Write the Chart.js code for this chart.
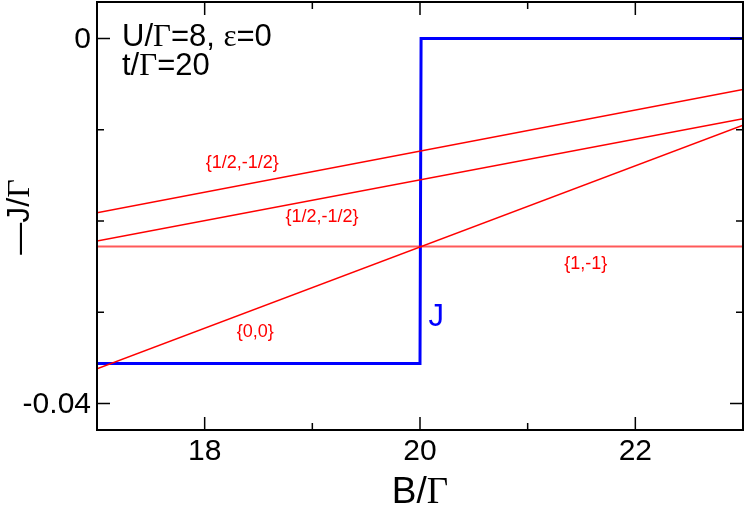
<!DOCTYPE html>
<html>
<head>
<meta charset="utf-8">
<script src="https://cdn.jsdelivr.net/npm/chart.js@4/dist/chart.umd.min.js"></script>
<style>
  html, body { margin: 0; padding: 0; background: #fff; }
  #wrap { width: 747px; height: 507px; }
</style>
</head>
<body>
<div id="wrap"><canvas id="c" width="747" height="507"></canvas></div>
<script>
// axis ranges and ticks
const xMin = 17, xMax = 23;
const yMin = -0.0429, yMax = 0.004;
const xTickValues = [17, 18, 19, 20, 21, 22, 23];
const xTickLabels = ['', '18', '', '20', '', '22', ''];
const yTickValues = [0, -0.01, -0.02, -0.03, -0.04];
const yTickLabels = ['0', '', '', '', '-0.04'];

// J step curve
const jB = [17, 20, 20.01, 23];
const jVal = [-0.0356, -0.0356, 0, 0];

// red level lines (end points at B=17 and B=23)
const lineB = [17, 23];
const level00 = [-0.0362, -0.0095];
const levelHalfA = [-0.0191, -0.0056];
const levelHalfB = [-0.0222, -0.0088];
const level1m1 = [-0.0228, -0.0228];

// text labels placed in data coordinates
const labelText = ['{1/2,-1/2}', '{1/2,-1/2}', '{1,-1}', '{0,0}'];
const labelB = [18.35, 19.09, 21.54, 18.47];
const labelY = [-0.01364, -0.01956, -0.02471, -0.03216];

const SANS = 'Liberation Sans, Arial, Helvetica, sans-serif';
const SERIF = 'Liberation Serif, DejaVu Serif, serif';

function pts(xs, ys) {
  return xs.map((x, i) => ({ x: x, y: ys[i] }));
}

// draws a string made of pieces in different fonts
function drawRuns(ctx, runs, x, y, size) {
  let cx = x;
  runs.forEach(r => {
    ctx.font = size + 'px ' + (r[1] ? SERIF : SANS);
    ctx.fillText(r[0], cx, y);
    cx += ctx.measureText(r[0]).width;
  });
  return cx - x;
}
function runsWidth(ctx, runs, size) {
  let w = 0;
  runs.forEach(r => {
    ctx.font = size + 'px ' + (r[1] ? SERIF : SANS);
    w += ctx.measureText(r[0]).width;
  });
  return w;
}

const framePlugin = {
  id: 'frame',
  afterDatasetsDraw(chart) {
    const ctx = chart.ctx;
    const a = chart.chartArea;
    const xs = chart.scales.x, ys = chart.scales.y;
    ctx.save();

    // tick marks pointing inward, on all four sides
    ctx.strokeStyle = '#000';
    ctx.lineWidth = 1.5;
    xTickValues.forEach((v, i) => {
      const px = xs.getPixelForValue(v);
      const len = xTickLabels[i] ? 13 : 7;
      ctx.beginPath();
      ctx.moveTo(px, a.bottom); ctx.lineTo(px, a.bottom - len);
      ctx.moveTo(px, a.top); ctx.lineTo(px, a.top + len);
      ctx.stroke();
    });
    yTickValues.forEach((v, i) => {
      const py = ys.getPixelForValue(v);
      const len = yTickLabels[i] ? 13 : 7;
      ctx.beginPath();
      ctx.moveTo(a.left, py); ctx.lineTo(a.left + len, py);
      ctx.moveTo(a.right, py); ctx.lineTo(a.right - len, py);
      ctx.stroke();
    });

    // frame
    ctx.lineWidth = 2;
    ctx.strokeRect(a.left, a.top, a.right - a.left, a.bottom - a.top);

    // tick labels
    ctx.fillStyle = '#000';
    ctx.font = '30px ' + SANS;
    ctx.textAlign = 'center';
    ctx.textBaseline = 'top';
    xTickValues.forEach((v, i) => {
      if (xTickLabels[i]) ctx.fillText(xTickLabels[i], xs.getPixelForValue(v), a.bottom + 7);
    });
    ctx.textAlign = 'right';
    ctx.textBaseline = 'middle';
    yTickValues.forEach((v, i) => {
      if (yTickLabels[i]) ctx.fillText(yTickLabels[i], a.left - 6, ys.getPixelForValue(v) + 1);
    });

    // red state labels
    ctx.fillStyle = '#ff0000';
    ctx.font = '18px ' + SANS;
    ctx.textAlign = 'center';
    ctx.textBaseline = 'middle';
    labelText.forEach((t, i) => {
      ctx.fillText(t, xs.getPixelForValue(labelB[i]), ys.getPixelForValue(labelY[i]));
    });

    // J label
    ctx.fillStyle = '#0000ff';
    ctx.font = '31px ' + SANS;
    ctx.fillText('J', xs.getPixelForValue(20.15), ys.getPixelForValue(-0.0306));

    // parameter text
    ctx.fillStyle = '#000';
    ctx.textAlign = 'left';
    ctx.textBaseline = 'alphabetic';
    const tx = a.left + 25;
    drawRuns(ctx, [['U/', 0], ['\u0393', 1], ['=8, ', 0], ['\u03b5', 1], ['=0', 0]], tx, 46, 31);
    drawRuns(ctx, [['t/', 0], ['\u0393', 1], ['=20', 0]], tx, 75, 31);

    // x title
    const xr = [['B/', 0], ['\u0393', 1]];
    const xw = runsWidth(ctx, xr, 37);
    drawRuns(ctx, xr, (a.left + a.right) / 2 - xw / 2, 503, 37);

    // y title, rotated
    const yr = [['\u2014J/', 0], ['\u0393', 1]];
    const yw = runsWidth(ctx, yr, 32);
    ctx.translate(29, 217);
    ctx.rotate(-Math.PI / 2);
    drawRuns(ctx, yr, -yw / 2, 0, 32);

    ctx.restore();
  }
};

function redLine(ys) {
  return {
    data: pts(lineB, ys),
    borderColor: '#ff0000',
    borderWidth: 1.5,
    pointRadius: 0,
    showLine: true
  };
}

new Chart(document.getElementById('c'), {
  type: 'scatter',
  data: {
    datasets: [
      redLine(level00),
      redLine(levelHalfA),
      redLine(levelHalfB),
      {
        data: pts(lineB, level1m1),
        borderColor: 'rgba(255,0,0,0.65)',
        borderWidth: 2,
        pointRadius: 0,
        showLine: true
      },
      {
        data: pts(jB, jVal),
        borderColor: '#0000ff',
        borderWidth: 3,
        pointRadius: 0,
        showLine: true
      }
    ]
  },
  options: {
    responsive: false,
    animation: false,
    layout: { padding: { top: 2, right: 4, left: 0, bottom: 0 } },
    plugins: { legend: { display: false }, tooltip: { enabled: false } },
    scales: {
      x: {
        type: 'linear',
        min: xMin, max: xMax,
        grid: { display: false },
        border: { display: false },
        ticks: { display: false },
        afterFit: s => { s.height = 77; }
      },
      y: {
        type: 'linear',
        min: yMin, max: yMax,
        grid: { display: false },
        border: { display: false },
        ticks: { display: false },
        afterFit: s => { s.width = 97; }
      }
    }
  },
  plugins: [framePlugin]
});
</script>
</body>
</html>
